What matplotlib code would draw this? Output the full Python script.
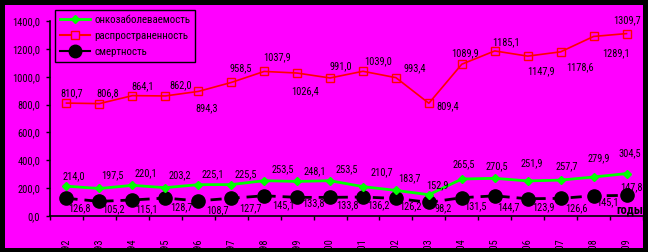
import matplotlib
matplotlib.use('Agg')
import matplotlib.pyplot as plt
from matplotlib import font_manager
from matplotlib.patches import Rectangle
from matplotlib.lines import Line2D

# narrow font if there is one, else Arial-like
FONT = 'Liberation Sans'
NARROW = False
for name in ['Liberation Sans Narrow', 'Roboto Condensed', 'Open Sans Condensed']:
    try:
        font_manager.findfont(name, fallback_to_default=False)
        FONT, NARROW = name, True
        break
    except Exception:
        pass
plt.rcParams['font.family'] = [FONT, 'DejaVu Sans']
FS = 7.5 if NARROW else 6.5
LEG_FS = 7.8 if NARROW else 7.2

# ── data ──
years = [str(y) for y in range(1992, 2010)]
incidence = [214.0, 197.5, 220.1, 203.2, 225.1, 225.5, 253.5, 248.1, 253.5,
             210.7, 183.7, 152.9, 265.5, 270.5, 251.9, 257.7, 279.9, 304.5]
prevalence = [810.7, 806.8, 864.1, 862.0, 894.3, 958.5, 1037.9, 1026.4, 991.0,
              1039.0, 993.4, 809.4, 1089.9, 1185.1, 1147.9, 1178.6, 1289.1, 1309.7]
mortality = [126.8, 105.2, 115.1, 128.7, 108.7, 127.7, 145.1, 133.8, 133.8,
             136.2, 126.2, 98.2, 131.5, 144.7, 123.9, 126.6, 145.1, 147.8]
series_names = ['онкозаболеваемость', 'распространенность', 'смертность']
yticks = [0, 200, 400, 600, 800, 1000, 1200, 1400]

# label offsets in pixels (dx, dy)
inc_off = [(7, 10), (13, 13), (14, 12), (15, 12), (15, 10), (15, 10), (19, 11), (18, 10), (17, 11),
           (19, 14), (14, 12), (9, 10), (2, 15), (2, 12), (4, 18), (6, 14), (5, 19), (3, 20)]
prev_off = [(5, 10), (8, 10), (10, 9), (15, 11), (8, -17), (10, 14), (13, 14), (8, -18), (11, 12),
            (15, 10), (19, 9), (19, -3), (3, 11), (11, 9), (13, -15), (19, -15), (22, -17), (1, 13)]
mort_off = [(13, -10), (14, -8), (14, -9), (16, -9), (19, -9), (19, -10), (19, -9), (16, -6), (17, -8),
            (15, -8), (15, -8), (14, -6), (14, -9), (14, -11), (16, -8), (16, -10), (14, -6), (5, 8)]

MAGENTA = '#FF00FF'
GREEN = '#00FF00'
RED = '#FF0000'

fig = plt.figure(figsize=(6.48, 2.52), dpi=100, facecolor='black')
fig.patches.append(Rectangle((5 / 648, 4 / 252), 638 / 648, 243 / 252,
                             transform=fig.transFigure, facecolor=MAGENTA,
                             edgecolor='none', zorder=-10))

ax = fig.add_axes([50 / 648, 36 / 252, 593 / 648, 195 / 252])
ax.set_facecolor('none')
x = list(range(len(years)))

ax.plot(x, mortality, color='black', lw=2, dashes=(4, 2.5), marker='o',
        markersize=9.5, markerfacecolor='black', markeredgecolor='black', zorder=3)
ax.plot(x, incidence, color=GREEN, lw=2, marker='D', markersize=4.5,
        markerfacecolor=GREEN, markeredgecolor=GREEN, zorder=4)
ax.plot(x, prevalence, color=RED, lw=1.2, marker='s', markersize=5.5,
        markerfacecolor='none', markeredgecolor=RED, markeredgewidth=1, zorder=5)

lbl = dict(textcoords='offset pixels', ha='center', va='center', fontsize=FS,
           color='black', annotation_clip=False, zorder=6)
for xi, v, o in zip(x, incidence, inc_off):
    ax.annotate(f'{v:.1f}'.replace('.', ','), (xi, v), xytext=o, **lbl)
for xi, v, o in zip(x, prevalence, prev_off):
    ax.annotate(f'{v:.1f}'.replace('.', ','), (xi, v), xytext=o, **lbl)
for xi, v, o in zip(x, mortality, mort_off):
    ax.annotate(f'{v:.1f}'.replace('.', ','), (xi, v), xytext=o, **lbl)

ax.set_xlim(-0.5, len(years) - 0.5)
ax.set_ylim(0, 1400)
ax.set_yticks(yticks)
ax.set_yticklabels([f'{t:.1f}'.replace('.', ',') for t in yticks], fontsize=FS)
ax.set_xticks(x)
ax.set_xticklabels(years, rotation=90, fontsize=FS, va='top')
ax.set_xticks([i - 0.5 for i in range(len(years) + 1)], minor=True)
ax.tick_params(axis='x', which='major', length=0, pad=16)
ax.tick_params(axis='x', which='minor', length=3, width=1, color='black', direction='out')
ax.tick_params(axis='y', length=3, width=1, color='black', direction='out', pad=4)
for s in ['top', 'right']:
    ax.spines[s].set_visible(False)
for s in ['left', 'bottom']:
    ax.spines[s].set_color('black')
    ax.spines[s].set_linewidth(1.2)

ax.text(1.0, 0.03, 'годы', transform=ax.transAxes, ha='right', va='center',
        fontsize=9, fontweight='bold', color='black')

handles = [
    Line2D([], [], color=GREEN, lw=2, marker='D', markersize=4.5),
    Line2D([], [], color=RED, lw=1.5, marker='s', markersize=6,
           markerfacecolor=MAGENTA, markeredgecolor=RED),
    Line2D([], [], color='black', lw=1.5, marker='o', markersize=9),
]
leg = fig.legend(handles, series_names, loc='upper left',
                 bbox_to_anchor=(55 / 648, 1 - 10 / 252), fontsize=LEG_FS,
                 frameon=True, fancybox=False, framealpha=1,
                 facecolor=MAGENTA, edgecolor='black', handlelength=2.8,
                 labelspacing=0.55, borderpad=0.45, handletextpad=0.4,
                 borderaxespad=0)
leg.get_frame().set_linewidth(1)

fig.savefig('out.png', dpi=100, facecolor='black')
